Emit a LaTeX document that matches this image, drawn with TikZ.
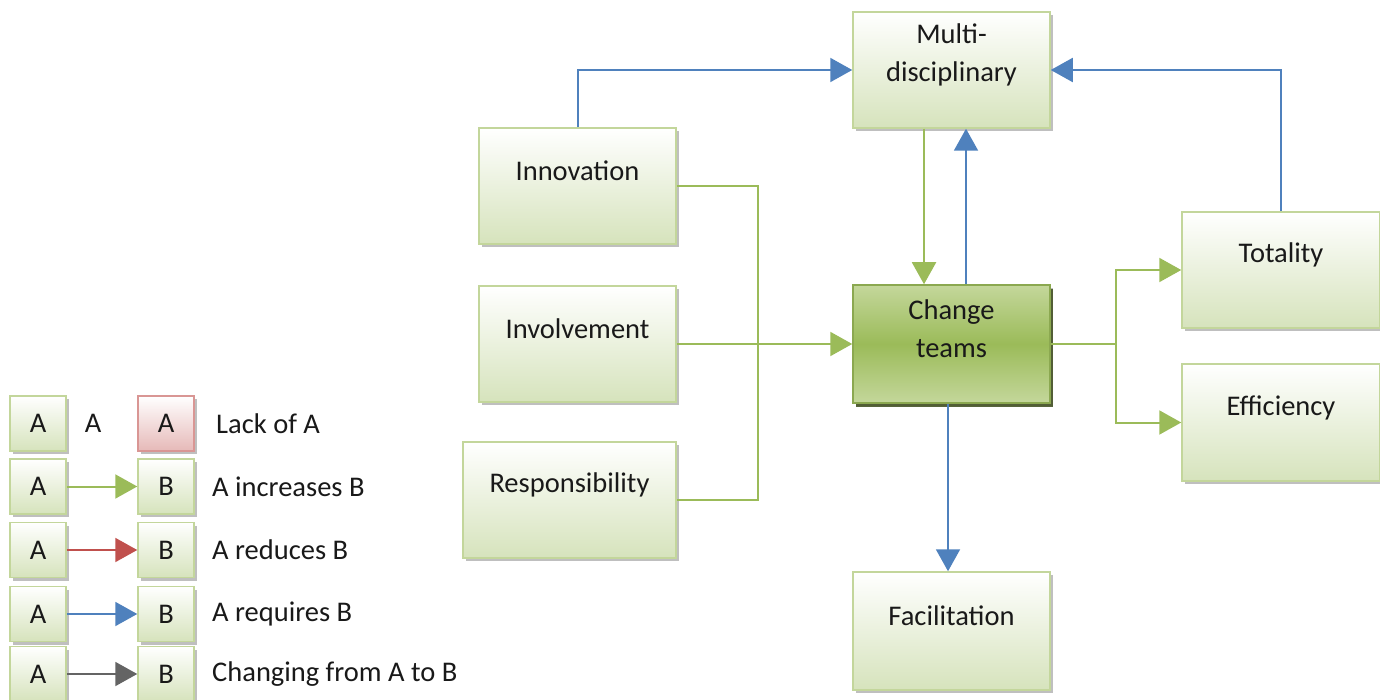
\documentclass[tikz,border=0pt]{standalone}
\usepackage{fontspec}
\setmainfont{Carlito}
\usetikzlibrary{arrows.meta,shadows}
\definecolor{lgreen}{RGB}{155,187,89}
\definecolor{lblue}{RGB}{79,129,189}
\definecolor{lred}{RGB}{192,80,77}
\definecolor{lgrey}{RGB}{100,100,100}
\definecolor{bordg}{RGB}{195,214,155}
\definecolor{fillg}{RGB}{214,227,188}
\definecolor{darkg}{RGB}{155,187,89}
\definecolor{midg}{RGB}{196,215,155}
\definecolor{bordr}{RGB}{217,150,148}
\definecolor{fillr}{RGB}{230,185,184}
\definecolor{txt}{RGB}{25,25,25}
\tikzset{
  every node/.style={font=\fontsize{28.5}{38}\selectfont, text=txt},
  box/.style={draw=bordg, line width=1.5pt, top color=white, bottom color=fillg,
    minimum width=197pt, minimum height=116pt, inner sep=0pt,
    drop shadow={shadow xshift=3pt, shadow yshift=-3pt, fill=black, opacity=0.25}},
  cbox/.style={box, draw=lgreen!90!black, top color=midg, bottom color=midg, middle color=darkg,
    drop shadow={shadow xshift=3pt, shadow yshift=-4pt, fill=lgreen!45!black, opacity=0.9}},
  lbox/.style={box, minimum width=56pt, minimum height=55pt},
  rbox/.style={lbox, draw=bordr, bottom color=fillr},
  lab/.style={align=center, yshift=15pt},
  inc/.style={draw=lgreen, line width=2pt},
  tip/.style={-{Triangle[length=22pt,width=24pt]}},
  incA/.style={inc, tip},
  redA/.style={draw=lred, line width=2pt, tip},
  reqA/.style={draw=lblue, line width=2pt, tip},
  chgA/.style={draw=lgrey, line width=2pt, tip},
  ltext/.style={anchor=west, inner sep=0pt}
}
\begin{document}
\begin{tikzpicture}[x=1pt,y=-1pt]
\useasboundingbox (0,0) rectangle (1380,700);
% main boxes
\node[box] (multi) at (951.5,70) {};
\node[lab] at (multi.center) {Multi-\\disciplinary};
\node[box] (inn) at (577.5,186) {};
\node[lab] at (inn.center) {Innovation};
\node[box] (inv) at (577.5,344) {};
\node[lab] at (inv.center) {Involvement};
\node[box, minimum width=213pt] (resp) at (569.5,500) {};
\node[lab] at (resp.center) {Responsibility};
\node[cbox, minimum height=118pt] (chg) at (951.5,344) {};
\node[lab] at (chg.center) {Change\\teams};
\node[box, minimum width=198pt] (tot) at (1281,270) {};
\node[lab] at (tot.center) {Totality};
\node[box, minimum width=198pt, minimum height=117pt] (eff) at (1281,422.5) {};
\node[lab] at (eff.center) {Efficiency};
\node[box, minimum height=118pt] (fac) at (951.5,631) {};
\node[lab] at (fac.center) {Facilitation};
% connectors
\draw[reqA] (inn.north) |- (multi.west);
\draw[reqA] (tot.north) |- (multi.east);
\draw[incA] ([xshift=-27.5pt]multi.south) -- ([xshift=-27.5pt]chg.north);
\draw[reqA] ([xshift=14.5pt]chg.north) -- ([xshift=14.5pt]multi.south);
\draw[reqA] ([xshift=-3.5pt]chg.south) -- ([xshift=-3.5pt]fac.north);
\draw[inc] (inn.east) -- ++(81,0) coordinate (bus) |- (resp.east);
\draw[incA] (inv.east) -- (chg.west);
\draw[inc] (chg.east) -- ++(65,0) coordinate (split);
\draw[incA] (split) |- (tot.west);
\draw[incA] (split) |- (eff.west);
% legend
\node[lbox] (la1) at (38,423.5) {A};
\node (lt0) at (93,423.5) {A};
\node[rbox] (lr1) at (166,423.5) {A};
\node[ltext] (lt1) at (216,423.5) {Lack of A};
\node[lbox] (la2) at (38,486.5) {A};
\node[lbox] (lb2) at (166,486.5) {B};
\node[ltext] (lt2) at (212,486.5) {A increases B};
\draw[incA] (la2.east) -- (lb2.west);
\node[lbox] (la3) at (38,550) {A};
\node[lbox] (lb3) at (166,550) {B};
\node[ltext] (lt3) at (212,550) {A reduces B};
\draw[redA] (la3.east) -- (lb3.west);
\node[lbox] (la4) at (38,614) {A};
\node[lbox] (lb4) at (166,614) {B};
\node[ltext] (lt4) at (212,614) {A requires B};
\draw[reqA] (la4.east) -- (lb4.west);
\node[lbox] (la5) at (38,674) {A};
\node[lbox] (lb5) at (166,674) {B};
\node[ltext] (lt5) at (212,674) {Changing from A to B};
\draw[chgA] (la5.east) -- (lb5.west);
\end{tikzpicture}
\end{document}
